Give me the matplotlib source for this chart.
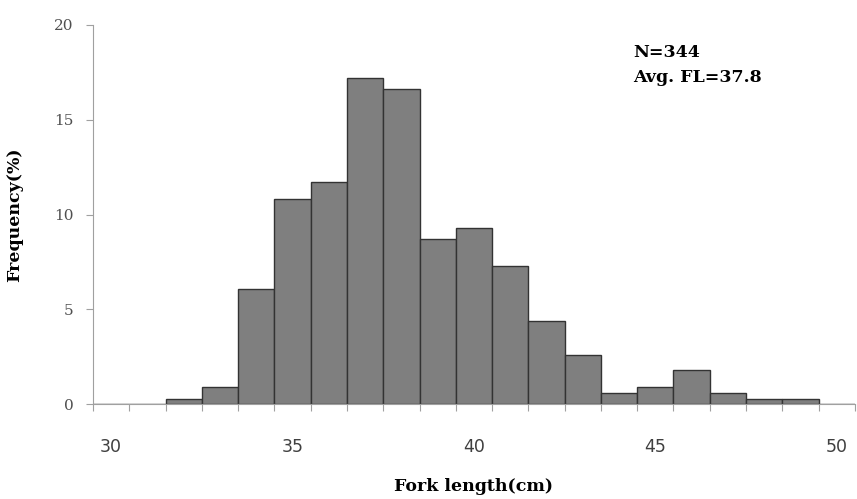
import numpy as np
import matplotlib
matplotlib.use("Agg")
import matplotlib.pyplot as plt

# fork length classes (cm) and frequency (%)
lengths = list(range(30, 51))
freq = [0.0, 0.0, 0.3, 0.9, 6.1, 10.8, 11.7, 17.2, 16.6, 8.7, 9.3, 7.3,
        4.4, 2.6, 0.6, 0.9, 1.8, 0.6, 0.3, 0.3, 0.0]
label_ticks = [30, 35, 40, 45, 50]
y_ticks = [0, 5, 10, 15, 20]

SERIF = "DejaVu Serif"

fig = plt.figure(figsize=(8.57, 4.99), dpi=100)
ax = fig.add_axes([0.1085, 0.19, 0.889, 0.76])

ax.bar(lengths, freq, width=1.0, color="#7f7f7f", edgecolor="#333333", linewidth=1.0)

ax.set_xlim(29.5, 50.5)
ax.set_ylim(0, 20)

# category boundaries carry tick marks, labels sit at class centres
ax.set_xticks(label_ticks)
ax.set_xticklabels([str(v) for v in label_ticks], family="DejaVu Sans", fontsize=12.5,
                   color="#404040")
ax.tick_params(axis="x", which="major", length=0, pad=24)
ax.set_xticks(np.arange(29.5, 51, 1.0), minor=True)
ax.tick_params(axis="x", which="minor", length=5, color="#a0a0a0", width=0.8)

ax.set_yticks(y_ticks)
ax.set_yticklabels([str(v) for v in y_ticks], family=SERIF, fontsize=11,
                   color="#505050")
ax.tick_params(axis="y", length=5, color="#a0a0a0", width=0.8, pad=9)

for side in ("top", "right"):
    ax.spines[side].set_visible(False)
ax.spines["left"].set_color("#a0a0a0")
ax.spines["bottom"].set_color("#a0a0a0")
ax.spines["left"].set_linewidth(0.8)
ax.spines["bottom"].set_linewidth(0.8)

ax.set_ylabel("Frequency(%)", family=SERIF, fontweight="bold", fontsize=12.5)
ax.yaxis.set_label_coords(-0.092, 0.5)
ax.set_xlabel("Fork length(cm)", family=SERIF, fontweight="bold", fontsize=12.5,
              va="center")
ax.xaxis.set_label_coords(0.5, -0.218)

ax.text(0.709, 0.95, "N=344\nAvg. FL=37.8", transform=ax.transAxes,
        family=SERIF, fontweight="bold", fontsize=12.5,
        va="top", ha="left", linespacing=1.6)

fig.savefig("out.png", dpi=100)
